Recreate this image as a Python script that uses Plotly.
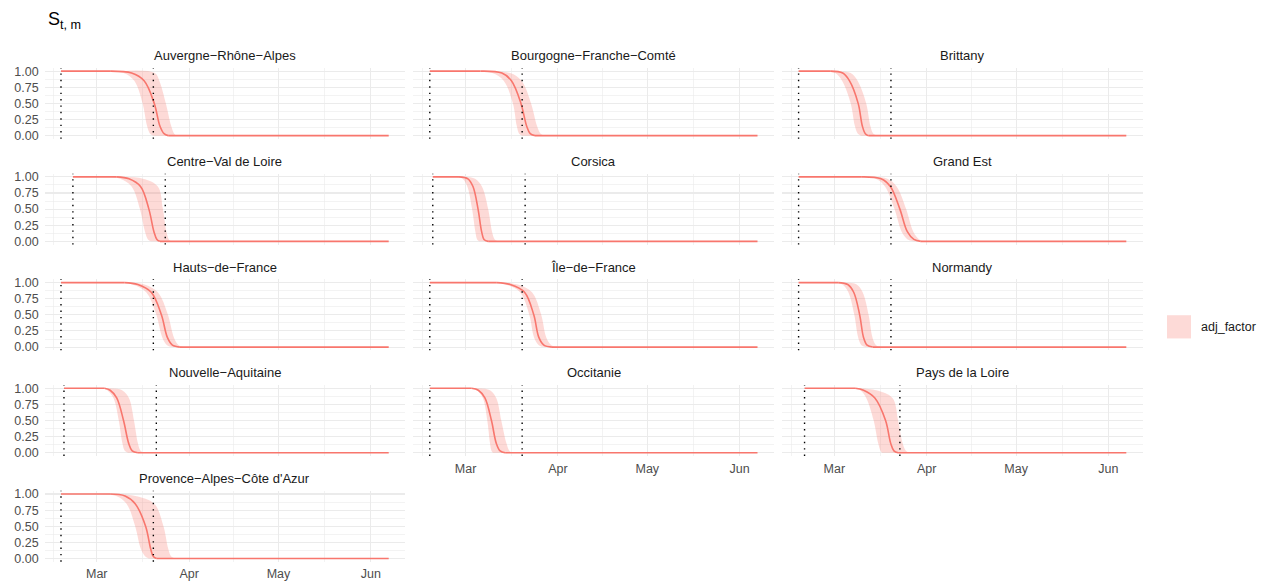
import pandas as pd
import plotly.graph_objects as go

# ---------------- data ----------------
REF_DATE = "2020-03-01"          # day offsets below are counted from this date
END_DATE = "2020-06-07"

REGIONS = [
    "Auvergne−Rhône−Alpes", "Bourgogne−Franche−Comté", "Brittany",
    "Centre−Val de Loire", "Corsica", "Grand Est",
    "Hauts−de−France", "Île−de−France", "Normandy",
    "Nouvelle−Aquitaine", "Occitanie", "Pays de la Loire",
    "Provence−Alpes−Côte d'Azur",
]

START_DATES = [
    "2020-02-18", "2020-02-18", "2020-02-18",
    "2020-02-22", "2020-02-19", "2020-02-18",
    "2020-02-18", "2020-02-18", "2020-02-18",
    "2020-02-19", "2020-02-18", "2020-02-20",
    "2020-02-18",
]

LOCKDOWN_DATES = [
    "2020-03-20", "2020-03-20", "2020-03-20",
    "2020-03-24", "2020-03-21", "2020-03-20",
    "2020-03-20", "2020-03-20", "2020-03-20",
    "2020-03-21", "2020-03-20", "2020-03-23",
    "2020-03-20",
]

LEVELS = [1.0, 0.97, 0.85, 0.5, 0.15, 0.03, 0.0]

MEDIAN_DAYS = [
    [4.5, 11.7, 15.9, 19.3, 21.2, 22.6, 24.0],
    [5.0, 12.2, 15.4, 18.6, 20.5, 21.7, 23.3],
    [-1.2, 2.8, 5.1, 8.0, 9.4, 10.4, 11.5],
    [6.7, 10.8, 14.7, 17.5, 19.2, 20.2, 21.2],
    [-2.2, 0.8, 2.5, 4.2, 5.4, 6.2, 7.6],
    [9.0, 15.7, 18.8, 22.0, 24.5, 26.7, 29.0],
    [9.3, 13.8, 18.3, 21.7, 23.7, 25.4, 27.9],
    [10.5, 15.0, 19.8, 22.9, 24.6, 26.3, 29.0],
    [1.3, 4.5, 6.5, 8.5, 9.8, 11.0, 12.9],
    [2.6, 4.5, 6.7, 9.0, 10.7, 11.9, 13.8],
    [2.0, 4.3, 6.5, 8.7, 10.3, 11.6, 13.3],
    [7.0, 9.8, 13.6, 17.2, 18.9, 20.0, 21.4],
    [4.5, 9.5, 12.9, 16.4, 18.1, 19.0, 20.1],
]

LOWER_DAYS = [
    [3.0, 9.0, 12.6, 15.4, 16.9, 17.9, 19.0],
    [3.0, 9.0, 12.8, 15.9, 17.2, 18.0, 19.0],
    [-4.0, 0.3, 2.6, 5.5, 6.9, 7.9, 9.0],
    [3.5, 7.8, 11.7, 14.5, 16.2, 17.2, 18.2],
    [-4.0, -1.0, 0.6, 2.2, 3.3, 3.9, 4.6],
    [7.0, 13.9, 17.0, 20.2, 22.6, 24.6, 26.5],
    [7.5, 12.0, 16.6, 20.0, 22.0, 23.6, 25.5],
    [9.0, 13.5, 18.3, 21.4, 23.0, 24.6, 26.5],
    [-0.5, 2.7, 4.7, 6.7, 8.0, 9.1, 10.5],
    [1.5, 3.5, 5.6, 7.4, 8.6, 9.4, 10.5],
    [1.0, 3.8, 5.8, 7.3, 8.2, 8.7, 9.2],
    [5.0, 8.7, 10.7, 13.2, 14.7, 15.5, 16.0],
    [1.0, 6.5, 10.0, 12.9, 14.8, 16.3, 17.5],
]

UPPER_DAYS = [
    [8.0, 19.5, 21.0, 23.2, 25.0, 26.0, 26.8],
    [8.0, 15.0, 18.8, 22.0, 24.0, 25.2, 26.5],
    [0.5, 5.5, 7.8, 10.7, 12.1, 13.1, 14.5],
    [8.0, 15.5, 20.5, 22.2, 23.4, 24.2, 25.0],
    [-1.0, 3.2, 5.5, 7.6, 8.9, 9.8, 10.9],
    [11.0, 17.8, 20.9, 24.1, 26.5, 28.5, 30.5],
    [11.0, 16.0, 20.5, 23.9, 25.9, 27.5, 30.0],
    [12.0, 17.5, 22.3, 25.4, 27.1, 28.8, 31.0],
    [3.0, 7.5, 9.5, 11.5, 12.8, 14.0, 15.8],
    [4.0, 8.5, 10.8, 12.5, 13.8, 14.7, 15.8],
    [4.0, 8.2, 10.3, 12.0, 13.7, 14.7, 15.6],
    [8.0, 14.0, 19.5, 21.4, 22.9, 24.0, 25.1],
    [6.0, 13.0, 19.3, 22.4, 24.0, 25.0, 26.3],
]

X_TICKS = ["2020-03-01", "2020-04-01", "2020-05-01", "2020-06-01"]
X_TICK_LABELS = ["Mar", "Apr", "May", "Jun"]
X_OUTER_BREAKS = ["2020-02-01", "2020-07-01"]
Y_TICKS = [0.0, 0.25, 0.5, 0.75, 1.0]
Y_TICK_LABELS = ["0.00", "0.25", "0.50", "0.75", "1.00"]
LEGEND_LABEL = "adj_factor"
Y_TITLE = "S<sub>t, m</sub>"

# ---------------- styling / layout ----------------
W, H = 1270, 586
FONT = "Liberation Sans, Arial, Helvetica, sans-serif"
LINE_COL = "#F8766D"
FILL_COL = "rgba(248,118,109,0.27)"
GRID_COL = "#EBEBEB"
NCOL = 3
PANEL_L0, COL_STEP, PANEL_W = 44.6, 368.8, 360.5
PANEL_T0, ROW_STEP, PANEL_H = 65.7, 107.0, 71.8

ref = pd.Timestamp(REF_DATE)
end = pd.Timestamp(END_DATE)
starts = pd.to_datetime(START_DATES)
xmin, xmax = starts.min(), end
pad = (xmax - xmin) * 0.05
xrange_ = [xmin - pad, xmax + pad]

breaks = pd.to_datetime([X_OUTER_BREAKS[0]] + X_TICKS + [X_OUTER_BREAKS[1]])
x_minor = [breaks[k] + (breaks[k + 1] - breaks[k]) / 2 for k in range(len(breaks) - 1)]
y_minor = [(Y_TICKS[k] + Y_TICKS[k + 1]) / 2 for k in range(len(Y_TICKS) - 1)]


def to_dates(days):
    return [ref + pd.to_timedelta(d, unit="D") for d in days]


fig = go.Figure()
layout = {}
annotations = []
shapes = []
n = len(REGIONS)
for i, name in enumerate(REGIONS):
    r, c = divmod(i, NCOL)
    ax = "" if i == 0 else str(i + 1)
    xa, ya = "x" + ax, "y" + ax
    left = PANEL_L0 + c * COL_STEP
    top = PANEL_T0 + r * ROW_STEP
    xdom = [left / W, (left + PANEL_W) / W]
    ydom = [1 - (top + PANEL_H) / H, 1 - top / H]

    st = pd.Timestamp(START_DATES[i])
    lo_x = to_dates(LOWER_DAYS[i])
    hi_x = to_dates(UPPER_DAYS[i])
    md_x = to_dates(MEDIAN_DAYS[i])

    # uncertainty ribbon (transition part; it has zero width on the plateaus)
    fig.add_trace(go.Scatter(x=lo_x, y=LEVELS, mode="lines",
                             line=dict(width=0, shape="spline", smoothing=1.0),
                             xaxis=xa, yaxis=ya, showlegend=False, hoverinfo="skip"))
    fig.add_trace(go.Scatter(x=hi_x, y=LEVELS, mode="lines",
                             line=dict(width=0, shape="spline", smoothing=1.0),
                             fill="tonexty", fillcolor=FILL_COL,
                             xaxis=xa, yaxis=ya, showlegend=False, hoverinfo="skip"))
    # median: flat plateaus + smooth transition
    fig.add_trace(go.Scatter(x=[st, md_x[0], None, md_x[-1], end],
                             y=[LEVELS[0], LEVELS[0], None, LEVELS[-1], LEVELS[-1]],
                             mode="lines", line=dict(color=LINE_COL, width=1.6),
                             xaxis=xa, yaxis=ya, showlegend=False, hoverinfo="skip"))
    fig.add_trace(go.Scatter(x=md_x, y=LEVELS, mode="lines",
                             line=dict(color=LINE_COL, width=1.6, shape="spline", smoothing=1.0),
                             xaxis=xa, yaxis=ya, showlegend=False, name=name))

    bottom_of_col = i + NCOL >= n
    layout["xaxis" + ax] = dict(
        domain=xdom, anchor=ya, type="date", range=xrange_,
        tickmode="array", tickvals=X_TICKS, ticktext=X_TICK_LABELS,
        showticklabels=bottom_of_col, ticks="", ticklabelstandoff=3,
        showgrid=True, gridcolor=GRID_COL, gridwidth=1.1,
        zeroline=False, showline=False,
        minor=dict(tickmode="array", tickvals=x_minor, showgrid=True,
                   gridcolor=GRID_COL, gridwidth=0.6),
        tickfont=dict(family=FONT, size=12.5, color="#4D4D4D"),
    )
    layout["yaxis" + ax] = dict(
        domain=ydom, anchor=xa, range=[-0.05, 1.05],
        tickmode="array", tickvals=Y_TICKS, ticktext=Y_TICK_LABELS,
        showticklabels=(c == 0), ticks="", ticklabelstandoff=5,
        showgrid=True, gridcolor=GRID_COL, gridwidth=1.1,
        zeroline=False, showline=False,
        minor=dict(tickmode="array", tickvals=y_minor, showgrid=True,
                   gridcolor=GRID_COL, gridwidth=0.6),
        tickfont=dict(family=FONT, size=12.5, color="#4D4D4D"),
    )

    for dt in (START_DATES[i], LOCKDOWN_DATES[i]):
        shapes.append(dict(type="line", xref=xa, yref=ya + " domain",
                           x0=dt, x1=dt, y0=0, y1=1, layer="above",
                           line=dict(color="black", width=1.4, dash="1.4px,5px")))

    annotations.append(dict(text=name, xref="paper", yref="paper",
                            x=(left + PANEL_W / 2) / W, y=1 - (top - 12.5) / H,
                            xanchor="center", yanchor="middle", showarrow=False,
                            font=dict(family=FONT, size=13, color="#1A1A1A")))

# overall y title
annotations.append(dict(text=Y_TITLE, xref="paper", yref="paper",
                        x=46 / W, y=1 - 18 / H, xanchor="left", yanchor="middle",
                        showarrow=False, font=dict(family=FONT, size=18, color="black")))

# legend (key + label)
shapes.append(dict(type="rect", xref="paper", yref="paper",
                   x0=1167 / W, x1=1191 / W, y0=1 - 339.5 / H, y1=1 - 316 / H,
                   fillcolor=FILL_COL, line=dict(width=0)))
annotations.append(dict(text=LEGEND_LABEL, xref="paper", yref="paper",
                        x=1199 / W, y=1 - 327.5 / H, xanchor="left", yanchor="middle",
                        showarrow=False, font=dict(family=FONT, size=12.5, color="#1A1A1A")))

fig.update_layout(width=W, height=H, margin=dict(l=0, r=0, t=0, b=0),
                  paper_bgcolor="white", plot_bgcolor="white",
                  font=dict(family=FONT), showlegend=False, hovermode=False,
                  annotations=annotations, shapes=shapes, **layout)

fig.write_html("out.html", config={"displayModeBar": False, "staticPlot": True},
               post_script="document.body.style.margin='0px';document.body.style.overflow='hidden';")
